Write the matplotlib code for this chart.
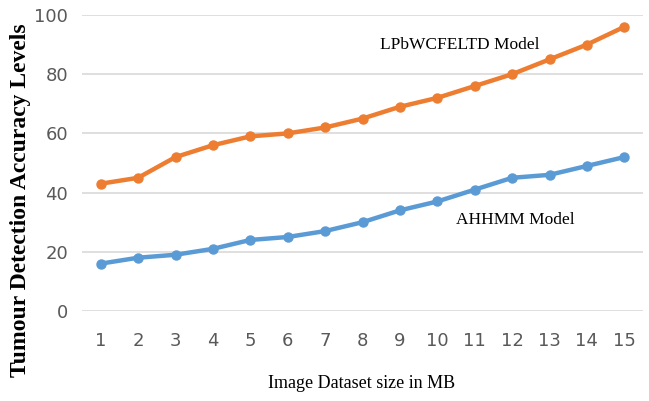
import matplotlib
matplotlib.use("Agg")
import matplotlib.pyplot as plt
import numpy as np

# dataset size (MB) and accuracy levels of both models
sizes = list(range(1, 16))
lpb_acc = [43, 45, 52, 56, 59, 60, 62, 65, 69, 72, 76, 80, 85, 90, 96]
ahhmm_acc = [16, 18, 19, 21, 24, 25, 27, 30, 34, 37, 41, 45, 46, 49, 52]
yticks = [0, 20, 40, 60, 80, 100]

W, H = 649, 401
fig = plt.figure(figsize=(W / 100, H / 100), dpi=100)
ax = fig.add_axes([82/W, 1 - 311/H, (643 - 82)/W, (311 - 15)/H])

ax.plot(sizes, lpb_acc, color="#ED7D31", lw=3.2, marker="o", ms=6.5)
ax.plot(sizes, ahhmm_acc, color="#5B9BD5", lw=3.2, marker="o", ms=6.5)

ax.set_xlim(0.5, 15.5)
ax.set_ylim(0, 100)
ax.set_xticks(sizes)
ax.set_yticks(yticks)
ax.grid(axis="y", color="#D9D9D9", lw=1.2)
ax.set_axisbelow(True)
for s in ax.spines.values():
    s.set_visible(False)
ax.tick_params(length=0, labelsize=13, labelcolor="#595959")
ax.tick_params(axis="x", pad=15)
ax.tick_params(axis="y", pad=10)

# series captions placed in figure pixels
fig.text(460/W, 1 - 45/H, "LPbWCFELTD Model", fontsize=12.5,
         family="Liberation Serif", ha="center", va="center")
fig.text(515/W, 1 - 220/H, "AHHMM Model", fontsize=12.5,
         family="Liberation Serif", ha="center", va="center")

fig.text(21/W, 1 - 200/H, "Tumour Detection Accuracy Levels", rotation=90,
         fontsize=17, fontweight="bold", family="Liberation Serif",
         ha="center", va="center")
fig.text(362/W, 1 - 383/H, "Image Dataset size in MB", fontsize=13,
         family="Liberation Serif", ha="center", va="center")

fig.savefig("out.png", dpi=100)
